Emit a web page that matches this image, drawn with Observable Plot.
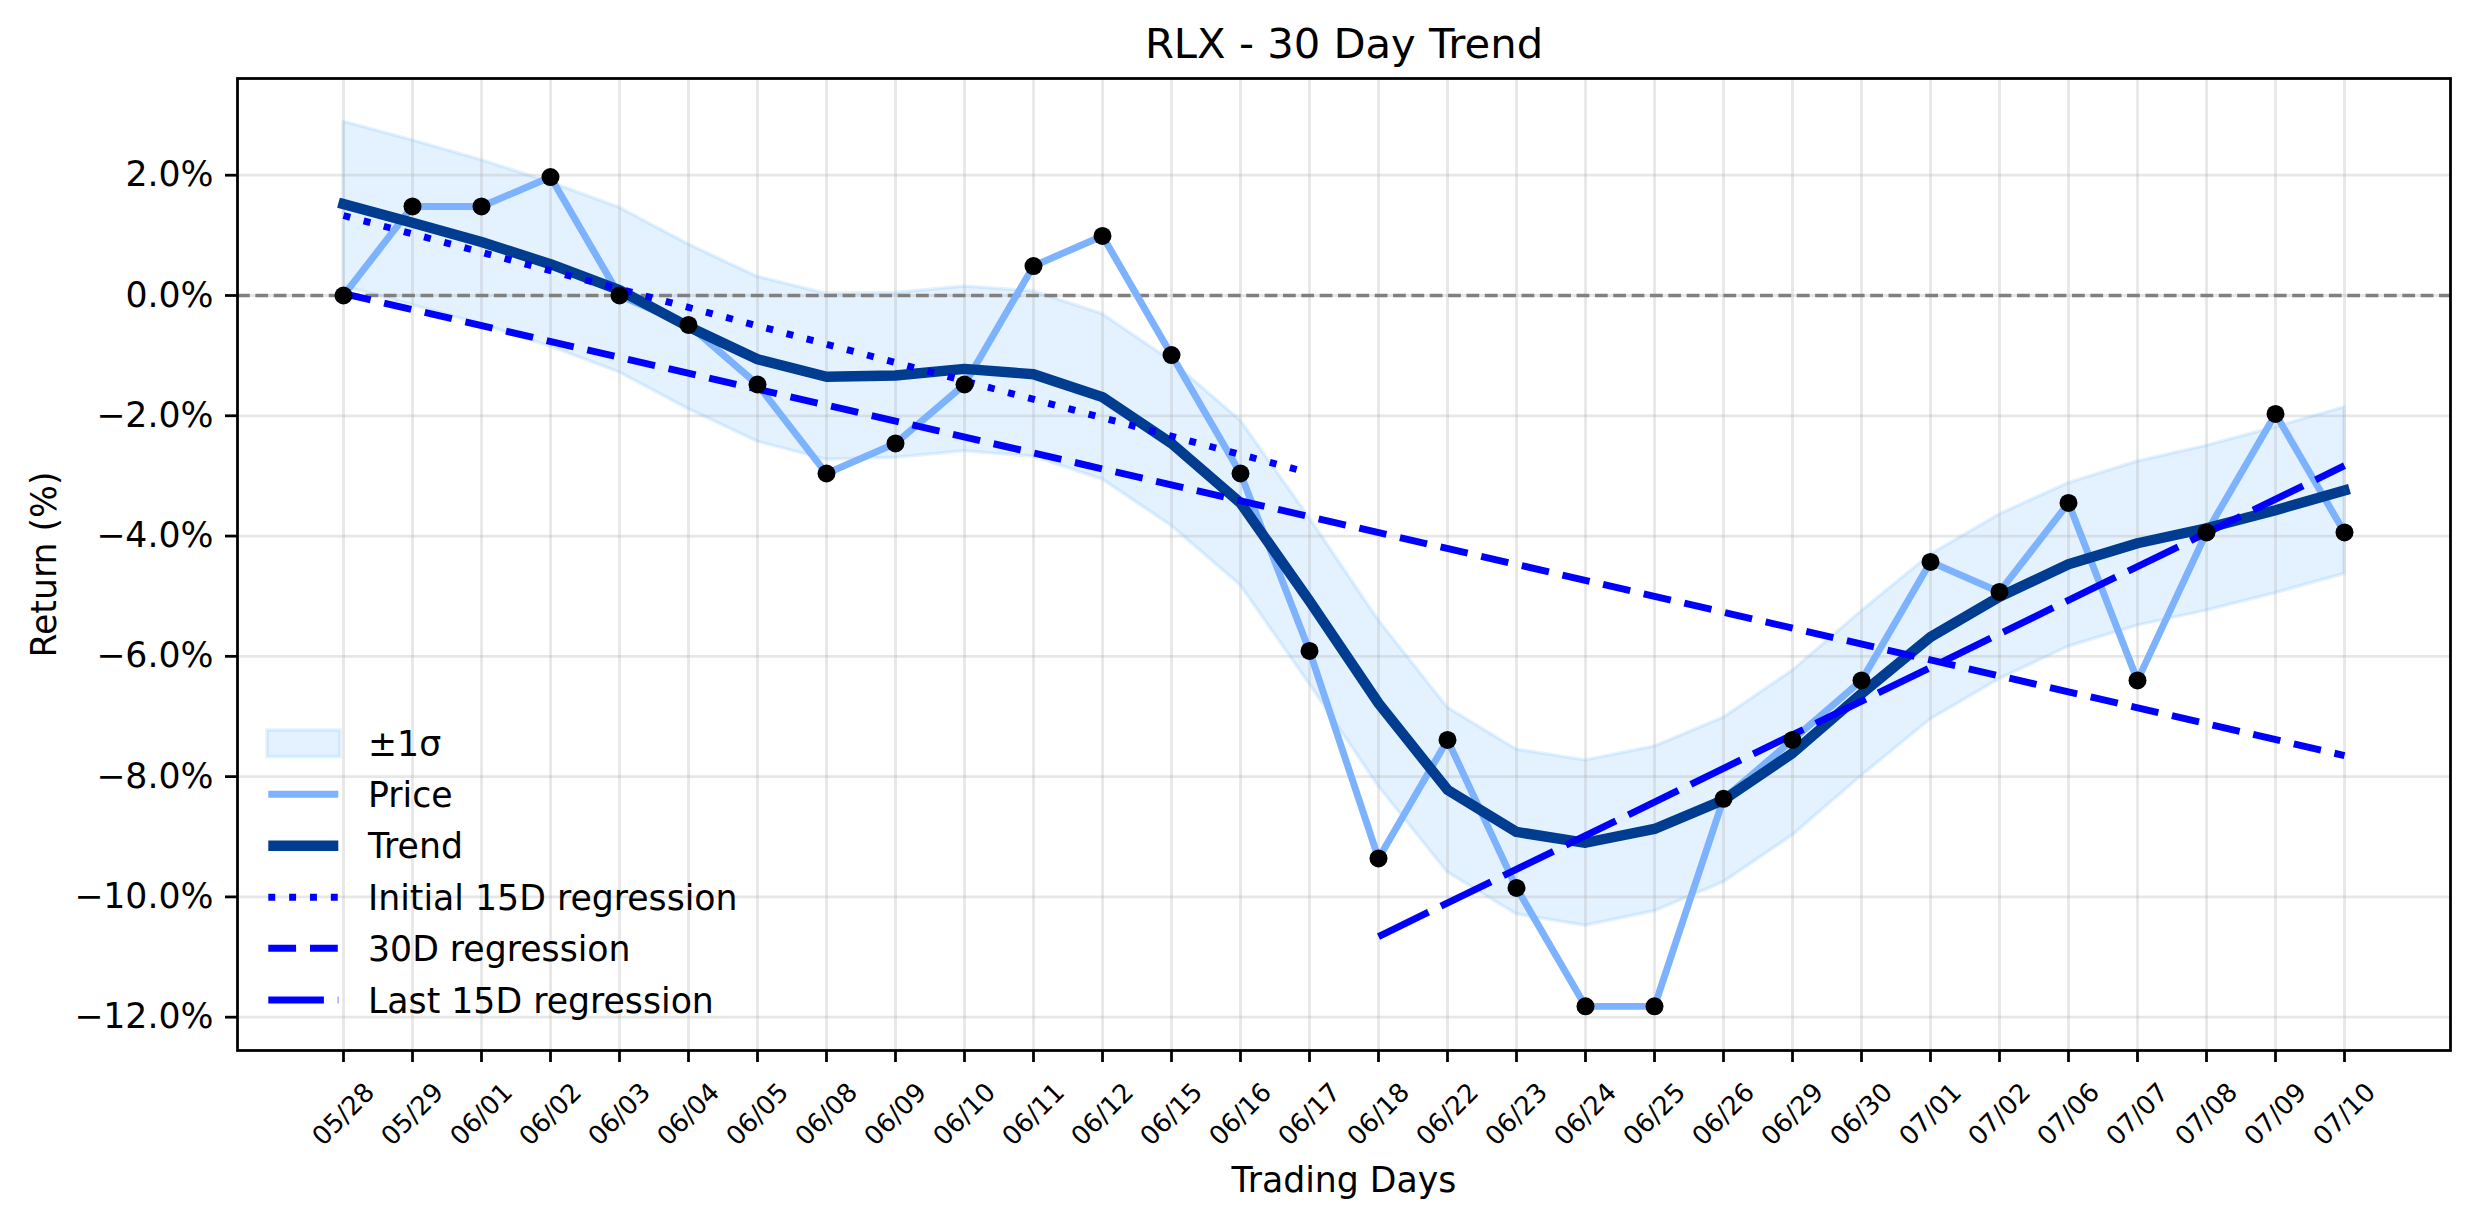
<!DOCTYPE html>
<html>
<head>
<meta charset="utf-8">
<script src="https://cdn.jsdelivr.net/npm/d3@7"></script>
<script src="https://cdn.jsdelivr.net/npm/@observablehq/plot@0.6"></script>
<style>
  html, body { margin: 0; padding: 0; background: #fff; }
  #wrap { position: relative; width: 2474px; height: 1224px; font-family: "DejaVu Sans", sans-serif; }
  #wrap svg { display: block; }
  #legend { position: absolute; left: 0; top: 0; pointer-events: none; }
</style>
</head>
<body>
<div id="wrap"></div>
<script>
// ---- data ----
const dates = ["05/28","05/29","06/01","06/02","06/03","06/04","06/05","06/08","06/09","06/10",
               "06/11","06/12","06/15","06/16","06/17","06/18","06/22","06/23","06/24","06/25",
               "06/26","06/29","06/30","07/01","07/02","07/06","07/07","07/08","07/09","07/10"];
const price = [0.00, 1.48, 1.48, 1.97, 0.00, -0.49, -1.48, -2.96, -2.46, -1.48,
               0.49, 0.99, -0.99, -2.96, -5.91, -9.36, -7.39, -9.85, -11.82, -11.82,
               -8.37, -7.39, -6.40, -4.43, -4.93, -3.45, -6.40, -3.94, -1.97, -3.94];
const trend = [1.52, 1.21, 0.89, 0.52, 0.09, -0.52, -1.06, -1.35, -1.33, -1.22,
               -1.31, -1.69, -2.46, -3.45, -5.08, -6.78, -8.22, -8.92, -9.10, -8.87,
               -8.39, -7.61, -6.62, -5.68, -5.01, -4.47, -4.12, -3.87, -3.57, -3.24];
const bandUpper = [2.89, 2.58, 2.25, 1.88, 1.46, 0.85, 0.31, 0.03, 0.04, 0.15,
                   0.07, -0.31, -1.09, -2.08, -3.70, -5.40, -6.85, -7.55, -7.73, -7.50,
                   -7.02, -6.24, -5.25, -4.31, -3.64, -3.12, -2.76, -2.50, -2.19, -1.86];
const bandLower = [0.15, -0.16, -0.48, -0.85, -1.28, -1.89, -2.43, -2.73, -2.70, -2.59,
                   -2.68, -3.06, -3.83, -4.82, -6.46, -8.16, -9.59, -10.29, -10.48, -10.24,
                   -9.76, -8.98, -7.99, -7.05, -6.38, -5.84, -5.49, -5.24, -4.95, -4.63];
const regInitialDates = ["05/28", "06/17"];
const regInitialValues = [1.33, -2.95];
const reg30Dates = ["05/28", "07/10"];
const reg30Values = [0.03, -7.65];
const regLastDates = ["06/18", "07/10"];
const regLastValues = [-10.66, -2.83];
const yTicks = [-12, -10, -8, -6, -4, -2, 0, 2];
const legendLabels = ["\u00b11\u03c3", "Price", "Trend", "Initial 15D regression", "30D regression", "Last 15D regression"];

// ---- styles ----
const PRICE = "#7db2ff";
const TREND = "#003c8f";
const REG = "#0000ff";
const BAND = "#1e90ff";
const LW = 6.94; // 2pt at 250 dpi

const rows = dates.map((d, i) => ({date: d, price: price[i], trend: trend[i], upper: bandUpper[i], lower: bandLower[i]}));
const fmtPct = v => (v < 0 ? "\u2212" : "") + Math.abs(v).toFixed(1) + "%";

const chart = Plot.plot({
  width: 2474,
  height: 1224,
  marginLeft: 237,
  marginRight: 24,
  marginTop: 78,
  marginBottom: 174,
  style: {fontFamily: '"DejaVu Sans", sans-serif', fontSize: "34.7px", background: "white", color: "black"},
  x: {type: "point", domain: dates, padding: 1.45},
  y: {domain: [-12.554, 3.608]},
  marks: [
    Plot.areaY(rows, {x: "date", y1: "lower", y2: "upper", fill: BAND, fillOpacity: 0.12,
                      stroke: BAND, strokeOpacity: 0.12, strokeWidth: 3.5}),
    Plot.gridX({stroke: "#b0b0b0", strokeOpacity: 0.3, strokeWidth: 2.78}),
    Plot.gridY(yTicks, {stroke: "#b0b0b0", strokeOpacity: 0.3, strokeWidth: 2.78}),
    Plot.ruleY([0], {stroke: "#808080", strokeWidth: 3.47, strokeDasharray: "12.8,5.55"}),
    Plot.line(rows, {x: "date", y: "price", stroke: PRICE, strokeWidth: LW, strokeLinecap: "square"}),
    Plot.line(rows, {x: "date", y: "trend", stroke: TREND, strokeWidth: 10.4, strokeLinecap: "square"}),
    Plot.line(regInitialValues, {x: regInitialDates, y: regInitialValues, stroke: REG, strokeWidth: LW,
                                 strokeLinecap: "butt", strokeDasharray: "6.94,13.9"}),
    Plot.line(reg30Values, {x: reg30Dates, y: reg30Values, stroke: REG, strokeWidth: LW,
                            strokeLinecap: "butt", strokeDasharray: "27.8,13.9"}),
    Plot.line(regLastValues, {x: regLastDates, y: regLastValues, stroke: REG, strokeWidth: LW,
                              strokeLinecap: "butt", strokeDasharray: "55.6,13.9"}),
    Plot.dot(rows, {x: "date", y: "price", r: 9, fill: "black", stroke: "none"}),
    Plot.frame({stroke: "black", strokeWidth: 2.78}),
    Plot.axisX({tickSize: 12, strokeWidth: 2.78, tickFormat: () => "", label: null}),
    Plot.text(dates, {x: d => d, text: d => d, frameAnchor: "bottom", dy: 64, rotate: -45,
                      textAnchor: "middle", lineAnchor: "middle", fontSize: 26}),
    Plot.axisY(yTicks, {tickSize: 12, strokeWidth: 2.78, tickPadding: 12, tickFormat: fmtPct,
                        fontSize: 34.7, label: null}),
    Plot.text(["RLX - 30 Day Trend"], {text: d => d, frameAnchor: "top", dy: -34, fontSize: 41.7,
                                       textAnchor: "middle", lineAnchor: "middle"}),
    Plot.text(["Return (%)"], {text: d => d, frameAnchor: "left", dx: -193, rotate: -90, fontSize: 34.7,
                               textAnchor: "middle", lineAnchor: "middle"}),
    Plot.text(["Trading Days"], {text: d => d, frameAnchor: "bottom", dy: 130, fontSize: 34.7,
                                 textAnchor: "middle", lineAnchor: "middle"})
  ]
});
document.getElementById("wrap").appendChild(chart);

// ---- legend (no frame, as in the reference) ----
const leg = d3.select("#wrap").append("svg").attr("id", "legend")
  .attr("width", 2474).attr("height", 1224);
const rowY = [743.3, 794.3, 845.7, 897.3, 948.3, 1000];
const hx1 = 268.3, hx2 = 338.3, tx = 368;
const handles = [
  null,
  {stroke: PRICE, w: LW, dash: null, cap: "butt"},
  {stroke: TREND, w: 10.4, dash: null, cap: "butt"},
  {stroke: REG, w: LW, dash: "6.94,13.9", cap: "butt"},
  {stroke: REG, w: LW, dash: "27.8,13.9", cap: "butt"},
  {stroke: REG, w: LW, dash: "55.6,13.9", cap: "butt"}
];
legendLabels.forEach((lab, i) => {
  const y = rowY[i];
  if (i === 0) {
    leg.append("rect").attr("x", 267).attr("y", y - 13.3).attr("width", 73).attr("height", 26.6)
      .attr("fill", BAND).attr("fill-opacity", 0.12).attr("stroke", BAND).attr("stroke-opacity", 0.12)
      .attr("stroke-width", 3.5);
  } else {
    const h = handles[i];
    const ln = leg.append("line").attr("x1", hx1).attr("x2", hx2).attr("y1", y).attr("y2", y)
      .attr("stroke", h.stroke).attr("stroke-width", h.w).attr("stroke-linecap", h.cap);
    if (h.dash) ln.attr("stroke-dasharray", h.dash);
  }
  leg.append("text").attr("x", tx).attr("y", y + 12.7).attr("font-size", 34.7)
    .attr("font-family", '"DejaVu Sans", sans-serif').attr("fill", "black").text(lab);
});
</script>
</body>
</html>
